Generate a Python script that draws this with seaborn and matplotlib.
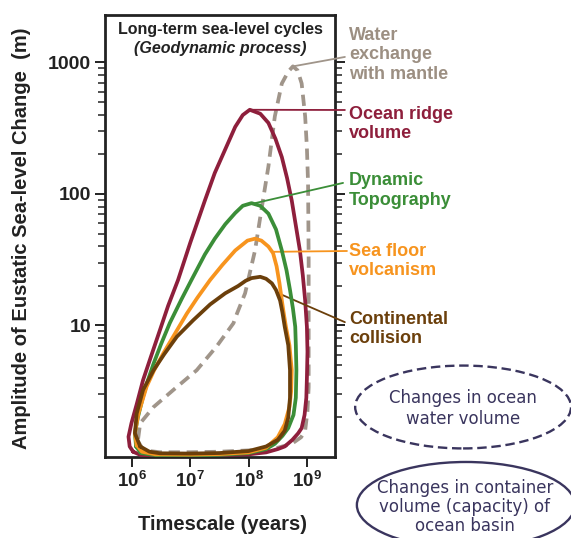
import numpy as np
import matplotlib
matplotlib.use("Agg")
import matplotlib.pyplot as plt
from matplotlib.patches import Ellipse
from matplotlib.ticker import FixedLocator, NullLocator
import seaborn as sns

# Each cycle is a closed loop in log10 units:
# timescale (years) and amplitude of sea-level change (m)
mantle_log_t = [6.1, 6.2, 6.48, 7.0, 7.5, 8.0, 8.5, 8.74, 8.9, 8.97, 9.01, 9.03, 9.03, 9.03,
                9.02, 9.0, 8.97, 8.91, 8.84, 8.76, 8.68, 8.57, 8.45, 8.34, 8.22, 8.11,
                7.94, 7.8, 7.74, 7.45, 7.11, 6.71, 6.37, 6.14, 6.1]
mantle_log_amp = [0.12, 0.05, 0.036, 0.036, 0.04, 0.05, 0.07, 0.1, 0.15, 0.2, 0.35, 0.53, 1.0, 1.5,
                  2.08, 2.35, 2.59, 2.84, 2.94, 2.97, 2.93, 2.84, 2.59, 2.21, 1.88, 1.57,
                  1.245, 1.09, 1.017, 0.84, 0.66, 0.51, 0.38, 0.256, 0.12]

ridge_log_t = [6.02, 6.15, 6.4, 7.0, 7.5, 8.0, 8.3, 8.5, 8.62, 8.75, 8.85, 8.91, 8.96, 8.99,
               9.0, 9.01, 9.0, 8.97, 8.93, 8.88, 8.81, 8.74, 8.66, 8.57, 8.46, 8.34, 8.2,
               8.02, 7.9, 7.77, 7.6, 7.42, 7.25, 7.0, 6.79, 6.62, 6.48, 6.33, 6.19, 6.08,
               5.99, 5.94, 5.96, 6.02]
ridge_log_amp = [0.04, 0.014, 0.012, 0.012, 0.014, 0.02, 0.035, 0.06, 0.08, 0.13, 0.18, 0.22, 0.32, 0.45,
                 0.6, 0.8, 0.99, 1.19, 1.38, 1.57, 1.76, 1.95, 2.12, 2.28, 2.42, 2.54, 2.61,
                 2.64, 2.6, 2.51, 2.34, 2.16, 1.95, 1.63, 1.346, 1.15, 0.966, 0.77, 0.585, 0.4,
                 0.256, 0.154, 0.08, 0.04]

dynamic_log_t = [6.07, 6.15, 6.4, 7.0, 7.5, 8.0, 8.3, 8.45, 8.58, 8.68, 8.77, 8.81, 8.82, 8.81,
                 8.8, 8.76, 8.71, 8.65, 8.57, 8.47, 8.34, 8.2, 8.05, 7.9, 7.77, 7.6, 7.42,
                 7.25, 7.02, 6.85, 6.65, 6.5, 6.37, 6.27, 6.19, 6.1, 6.05, 6.07]
dynamic_log_amp = [0.08, 0.03, 0.014, 0.012, 0.016, 0.03, 0.06, 0.1, 0.16, 0.22, 0.32, 0.45, 0.66, 0.85,
                   0.99, 1.13, 1.27, 1.42, 1.57, 1.73, 1.85, 1.91, 1.93, 1.91, 1.855, 1.77, 1.66,
                   1.54, 1.346, 1.2, 1.02, 0.86, 0.71, 0.58, 0.46, 0.3, 0.18, 0.08]

volcanism_log_t = [6.08, 6.17, 6.4, 7.0, 7.5, 8.0, 8.3, 8.5, 8.62, 8.7, 8.73, 8.74, 8.7, 8.64,
                   8.6, 8.57, 8.53, 8.48, 8.42, 8.34, 8.22, 8.11, 7.98, 7.77, 7.55, 7.34,
                   7.12, 6.94, 6.74, 6.54, 6.38, 6.25, 6.11, 6.05, 6.08]
volcanism_log_amp = [0.09, 0.04, 0.02, 0.018, 0.022, 0.035, 0.07, 0.15, 0.25, 0.38, 0.5, 0.66, 0.85, 0.99,
                     1.1, 1.19, 1.32, 1.45, 1.55, 1.6, 1.645, 1.66, 1.645, 1.57, 1.46, 1.346,
                     1.21, 1.09, 0.94, 0.79, 0.66, 0.535, 0.33, 0.18, 0.09]

collision_log_t = [6.14, 6.3, 6.48, 7.0, 7.5, 8.0, 8.3, 8.5, 8.62, 8.68, 8.71, 8.71, 8.68, 8.62,
                   8.58, 8.54, 8.47, 8.4, 8.3, 8.2, 8.05, 7.95, 7.82, 7.6, 7.34, 7.05, 6.77,
                   6.55, 6.37, 6.19, 6.08, 6.05, 6.14]
collision_log_amp = [0.08, 0.04, 0.028, 0.026, 0.03, 0.045, 0.08, 0.13, 0.2, 0.3, 0.45, 0.66, 0.85, 0.99,
                     1.1, 1.19, 1.27, 1.32, 1.355, 1.37, 1.36, 1.34, 1.3, 1.245, 1.16, 1.04, 0.915,
                     0.78, 0.66, 0.51, 0.33, 0.18, 0.08]

cycle_names = ["Water\nexchange\nwith mantle", "Ocean ridge\nvolume", "Dynamic\nTopography",
               "Sea floor\nvolcanism", "Continental\ncollision"]
cycle_colors = ["#A0958A", "#8E1F3C", "#3B8E38", "#F7941E", "#6B3F0B"]
# point on each loop where the label's leader line starts (log10 years, log10 m)
leader_log_t = [8.76, 8.04, 8.11, 8.42, 8.51]
leader_log_amp = [2.97, 2.64, 1.93, 1.56, 1.245]

x_ticks = [1e6, 1e7, 1e8, 1e9]
x_tick_labels = [r"$\mathbf{10^{6}}$", r"$\mathbf{10^{7}}$", r"$\mathbf{10^{8}}$", r"$\mathbf{10^{9}}$"]
y_ticks = [10, 100, 1000]
y_tick_labels = ["10", "100", "1000"]
y_minor = [m * d for d in (1, 10, 100) for m in range(2, 10)]

sns.set_style("white")
plt.rcParams["font.family"] = ["Liberation Sans", "DejaVu Sans"]
plt.rcParams["mathtext.fontset"] = "custom"
plt.rcParams["mathtext.rm"] = "Liberation Sans"
plt.rcParams["mathtext.bf"] = "Liberation Sans:bold"

fig = plt.figure(figsize=(5.71, 5.38), dpi=100)
ax = fig.add_axes([0.1839, 0.1506, 0.4028, 0.8216])

loops = [
    (mantle_log_t, mantle_log_amp, (0, (3, 1.8))),
    (ridge_log_t, ridge_log_amp, "-"),
    (dynamic_log_t, dynamic_log_amp, "-"),
    (volcanism_log_t, volcanism_log_amp, "-"),
    (collision_log_t, collision_log_amp, "-"),
]
for i, (lt, la, ls) in enumerate(loops):
    sns.lineplot(x=np.power(10.0, lt), y=np.power(10.0, la), sort=False, estimator=None,
                 color=cycle_colors[i], lw=2.7, linestyle=ls, ax=ax, zorder=2 + i,
                 solid_joinstyle="round")

ax.set_xscale("log")
ax.set_yscale("log")
ax.set_xlim(10 ** 5.537, 10 ** 9.482)
ax.set_ylim(1, 10 ** 3.361)

ax.set_xticks(x_ticks, labels=x_tick_labels)
ax.xaxis.set_minor_locator(NullLocator())
ax.set_yticks(y_ticks, labels=y_tick_labels, fontweight="bold")
ax.yaxis.set_minor_locator(FixedLocator(y_minor))
ax.tick_params(axis="both", which="major", direction="out", length=7, width=1.4,
               pad=3, color="#222222", labelcolor="#222222")
ax.tick_params(axis="x", which="major", labelsize=13.5)
ax.tick_params(axis="y", which="major", labelsize=14)
ax.tick_params(axis="x", which="both", bottom=True, top=False)
ax.tick_params(axis="y", which="both", left=True, right=True)
ax.tick_params(axis="y", which="minor", direction="out", length=5, width=1.1, color="#222222")

for sp in ax.spines.values():
    sp.set_linewidth(2.0)
    sp.set_color("#222222")

ax.set_xlabel("Timescale (years)", fontsize=14.5, fontweight="bold", color="#222222")
ax.xaxis.set_label_coords(0.513, -0.131)
ax.set_ylabel("Amplitude of Eustatic Sea-level Change  (m)", fontsize=14.5,
              fontweight="bold", color="#222222")
ax.yaxis.set_label_coords(-0.32, 0.495)

ax.text(0.5, 0.966, "Long-term sea-level cycles", transform=ax.transAxes, ha="center",
        va="center", fontsize=11.5, fontweight="bold", color="#222222")
ax.text(0.5, 0.925, "(Geodynamic process)", transform=ax.transAxes, ha="center",
        va="center", fontsize=11.5, fontweight="bold", style="italic", color="#222222")

# labels on the right with leader lines back to the loops
label_y = [0.9095, 0.7534, 0.6029, 0.4434, 0.2896]
leader_end = [(1.043, 0.905), (1.043, 0.785), (1.035, 0.620), (1.052, 0.466), (1.043, 0.305)]
for i, name in enumerate(cycle_names):
    c = "#9C8F82" if i == 0 else cycle_colors[i]
    ax.annotate("", xy=(10 ** leader_log_t[i], 10 ** leader_log_amp[i]), xycoords="data",
                xytext=leader_end[i], textcoords="axes fraction", annotation_clip=False,
                arrowprops=dict(arrowstyle="-", color=cycle_colors[i], lw=1.3,
                                shrinkA=0, shrinkB=0))
    ax.text(1.061, label_y[i], name, transform=ax.transAxes, ha="left", va="center",
            fontsize=13, fontweight="bold", color=c, linespacing=1.2)

# process-type ellipses
navy = "#3A355E"
fig.add_artist(Ellipse((0.811, 0.2435), 0.378, 0.154, transform=fig.transFigure,
                       fill=False, ec=navy, lw=1.7, ls=(0, (4, 2))))
fig.text(0.811, 0.240, "Changes in ocean\nwater volume", ha="center", va="center",
         fontsize=12, color=navy, family="DejaVu Sans")
fig.add_artist(Ellipse((0.816, 0.0613), 0.382, 0.16, transform=fig.transFigure,
                       fill=False, ec=navy, lw=1.7))
fig.text(0.814, 0.0576, "Changes in container\nvolume (capacity) of\nocean basin",
         ha="center", va="center", fontsize=12, color=navy, family="DejaVu Sans",
         linespacing=1.05)

fig.savefig("out.png", dpi=100)
